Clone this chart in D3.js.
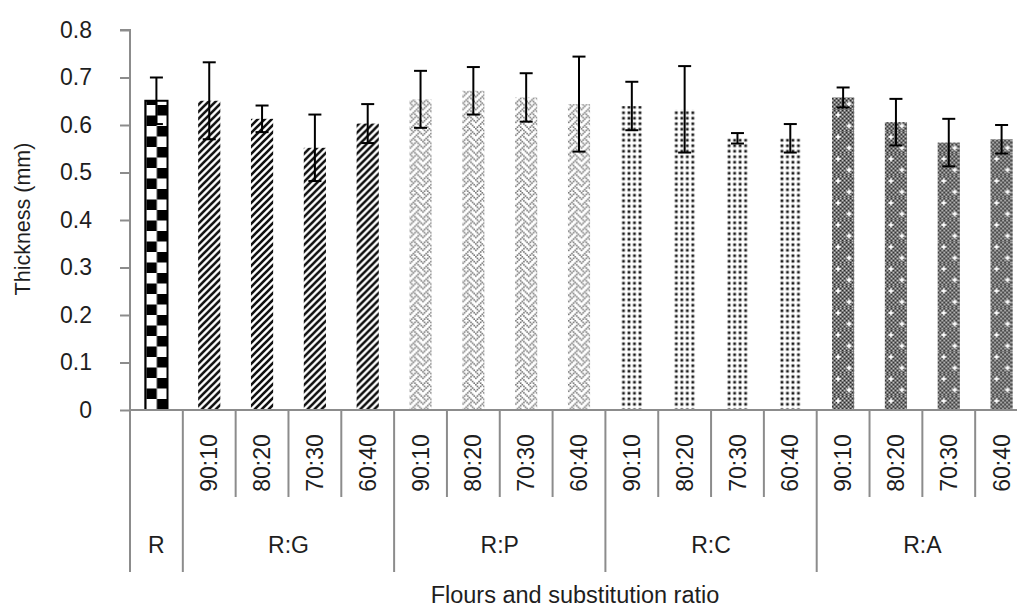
<!DOCTYPE html>
<html>
<head>
<meta charset="utf-8">
<script src="https://cdn.jsdelivr.net/npm/d3@7"></script>
<style>
  html, body { margin: 0; padding: 0; background: #fff; }
  svg { display: block; font-family: "Liberation Sans", Arial, sans-serif; }
</style>
</head>
<body>
<svg id="chart" width="1017" height="610"></svg>
<script>
// Flour groups and substitution ratios
const groups = ["R:G", "R:P", "R:C", "R:A"];
const ratios = ["90:10", "80:20", "70:30", "60:40"];
const control = "R";

// Mean thickness (mm) and standard deviation, control first, then each group in ratio order
const thickness = [0.651,
  0.651, 0.613, 0.552, 0.603,
  0.654, 0.672, 0.658, 0.644,
  0.640, 0.633, 0.572, 0.572,
  0.658, 0.606, 0.563, 0.570];
const sd = [0.049,
  0.081, 0.028, 0.070, 0.041,
  0.060, 0.050, 0.051, 0.100,
  0.051, 0.091, 0.011, 0.030,
  0.021, 0.049, 0.050, 0.030];

const yTicks = [0, 0.1, 0.2, 0.3, 0.4, 0.5, 0.6, 0.7, 0.8];

(function () {
// Build the category list: control, then group x ratio
const cats = [{ id: 0, group: control, ratio: null, fill: "checker" }];
const fills = { "R:G": "stripe", "R:P": "weave", "R:C": "dots", "R:A": "confetti" };
groups.forEach(g => ratios.forEach(r => cats.push({ id: cats.length, group: g, ratio: r, fill: fills[g] })));
cats.forEach((c, i) => { c.value = thickness[i]; c.sd = sd[i]; });

const svg = d3.select("#chart");
const plotLeft = 130, plotRight = 1028, plotTop = 30, plotBottom = 410;

const x = d3.scaleBand().domain(cats.map(c => c.id)).range([plotLeft, plotRight])
  .paddingInner(0.58).paddingOuter(0.29);
const y = d3.scaleLinear().domain([0, 0.8]).range([plotBottom, plotTop]);
const step = x.step();
const edge = i => x(i) - step * x.paddingInner() / 2;

const axisColor = "#8c8c8c";
const textColor = "#1e1e1e";
const labelSize = "23px";

// 8x8 weave bitmap, one byte per row
const weaveBits = [0x88, 0x54, 0x22, 0x45, 0x88, 0x14, 0x22, 0x51];

// ---- fill patterns, one per bar so every bar starts its pattern at its own left edge
const defs = svg.append("defs");
cats.forEach(c => {
  const bx = x(c.id);
  const p = defs.append("pattern").attr("id", "pat" + c.id)
    .attr("patternUnits", "userSpaceOnUse").attr("x", bx).attr("y", 0);
  if (c.fill === "checker") {
    const s = 10.5;
    p.attr("width", s * 2).attr("height", s * 2).attr("x", bx + 1);
    p.append("rect").attr("width", s * 2).attr("height", s * 2).attr("fill", "#fff");
    p.append("rect").attr("x", s).attr("y", 0).attr("width", s).attr("height", s).attr("fill", "#000");
    p.append("rect").attr("x", 0).attr("y", s).attr("width", s).attr("height", s).attr("fill", "#000");
  } else if (c.fill === "stripe") {
    const s = 7;
    p.attr("width", s).attr("height", s);
    p.append("rect").attr("width", s).attr("height", s).attr("fill", "#fff");
    p.append("path").attr("d", `M${-s},${s * 2} L${s * 2},${-s} M${-s * 2},${s * 2} L${s},${-s} M0,${s * 2} L${s * 3},${-s}`)
      .attr("stroke", "#111").attr("stroke-width", 2.6);
  } else if (c.fill === "weave") {
    const cell = 1.6, s = cell * 8;
    p.attr("width", s).attr("height", s);
    p.append("rect").attr("width", s).attr("height", s).attr("fill", "#fff");
    weaveBits.forEach((b, r) => {
      for (let k = 0; k < 8; k++) {
        if (b & (0x80 >> k)) p.append("rect").attr("x", k * cell).attr("y", r * cell)
          .attr("width", cell).attr("height", cell).attr("fill", "#3a3a3a").attr("fill-opacity", 0.7);
      }
    });
  } else if (c.fill === "dots") {
    const s = 5.5;
    p.attr("width", s).attr("height", s);
    p.append("rect").attr("width", s).attr("height", s).attr("fill", "#fff");
    p.append("circle").attr("cx", s / 2).attr("cy", s / 2).attr("r", 2).attr("fill", "#aaa");
    p.append("circle").attr("cx", s / 2).attr("cy", s / 2).attr("r", 1.2).attr("fill", "#1a1a1a");
  } else if (c.fill === "confetti") {
    const s = 22;
    p.attr("width", s).attr("height", s);
    p.append("rect").attr("width", s).attr("height", s).attr("fill", "#6e6e6e");
    for (let i = 0; i < s; i += 2) for (let j = 0; j < s; j += 2) {
      if ((i + j) % 4 === 0) p.append("rect").attr("x", i).attr("y", j).attr("width", 1.2).attr("height", 1.2).attr("fill", "#c8c8c8");
      else p.append("rect").attr("x", i).attr("y", j).attr("width", 1).attr("height", 1).attr("fill", "#2a2a2a");
    }
    [[6, 5], [17, 16]].forEach(([cx, cy]) => {
      p.append("rect").attr("x", cx - 2.5).attr("y", cy - 0.8).attr("width", 5).attr("height", 1.6).attr("fill", "#fff");
      p.append("rect").attr("x", cx - 0.8).attr("y", cy - 2.5).attr("width", 1.6).attr("height", 5).attr("fill", "#fff");
    });
  }
});

// ---- bars
svg.append("g").selectAll("rect").data(cats).join("rect")
  .attr("x", c => x(c.id))
  .attr("y", c => y(c.value))
  .attr("width", x.bandwidth())
  .attr("height", c => y(0) - y(c.value))
  .attr("fill", c => `url(#pat${c.id})`)
  .attr("stroke", c => c.fill === "checker" ? "#000" : "none")
  .attr("stroke-width", 2);

// ---- y axis
const yAxis = d3.axisLeft(y).tickValues(yTicks).tickSize(10).tickPadding(28)
  .tickFormat(d => d === 0 ? "0" : d3.format(".1f")(d));
const gy = svg.append("g").attr("transform", `translate(${plotLeft},0)`).call(yAxis);
gy.select(".domain").attr("stroke", axisColor).attr("stroke-width", 2).attr("d", `M-10,${plotTop}H0V${plotBottom}`);
gy.selectAll(".tick line").attr("stroke", axisColor).attr("stroke-width", 2);
gy.selectAll(".tick text").attr("fill", textColor).style("font-size", labelSize)
  .style("font-family", "'Liberation Sans', Arial, sans-serif");

// ---- x axis: baseline, category dividers and two label rows
const gx = svg.append("g");
gx.append("line").attr("x1", plotLeft).attr("x2", plotRight).attr("y1", plotBottom).attr("y2", plotBottom)
  .attr("stroke", axisColor).attr("stroke-width", 2);

const rowSplit = 497, rowEnd = 572;
const groupStarts = new Set([0, 1, 5, 9, 13, 17]);
d3.range(cats.length + 1).forEach(i => {
  const xe = i < cats.length ? edge(i) : plotRight;
  gx.append("line").attr("x1", xe).attr("x2", xe).attr("y1", plotBottom)
    .attr("y2", groupStarts.has(i) ? rowEnd : rowSplit)
    .attr("stroke", axisColor).attr("stroke-width", 2);
});

// ratio labels, rotated
gx.selectAll("text.ratio").data(cats.filter(c => c.ratio)).join("text")
  .attr("class", "ratio")
  .attr("transform", c => `translate(${x(c.id) + x.bandwidth() / 2},463) rotate(-90)`)
  .attr("text-anchor", "middle").attr("dy", "0.35em")
  .attr("fill", textColor).style("font-size", labelSize)
  .text(c => c.ratio);

// group labels
const groupLabels = [{ name: control, from: 0, to: 0 }]
  .concat(groups.map((g, k) => ({ name: g, from: 1 + k * 4, to: 4 + k * 4 })));
gx.selectAll("text.group").data(groupLabels).join("text")
  .attr("class", "group")
  .attr("x", g => (edge(g.from) + (g.to + 1 < cats.length ? edge(g.to + 1) : plotRight)) / 2)
  .attr("y", 545).attr("dy", "0.35em")
  .attr("text-anchor", "middle").attr("fill", textColor).style("font-size", labelSize)
  .text(g => g.name);

// ---- error bars
const eb = svg.append("g").attr("stroke", "#000").attr("stroke-width", 2);
cats.forEach(c => {
  const cx = x(c.id) + x.bandwidth() / 2;
  const hi = y(c.value + c.sd), lo = y(c.value - c.sd);
  eb.append("line").attr("x1", cx).attr("x2", cx).attr("y1", hi).attr("y2", lo);
  eb.append("line").attr("x1", cx - 6.5).attr("x2", cx + 6.5).attr("y1", hi).attr("y2", hi);
  eb.append("line").attr("x1", cx - 6.5).attr("x2", cx + 6.5).attr("y1", lo).attr("y2", lo);
});

// ---- axis titles
svg.append("text").attr("transform", `translate(22,219) rotate(-90)`)
  .attr("text-anchor", "middle").attr("dy", "0.35em")
  .attr("fill", textColor).style("font-size", "21.5px").text("Thickness (mm)");
svg.append("text").attr("x", 575).attr("y", 603)
  .attr("text-anchor", "middle").attr("fill", textColor).style("font-size", "23.5px")
  .text("Flours and substitution ratio");
})();
</script>
</body>
</html>
